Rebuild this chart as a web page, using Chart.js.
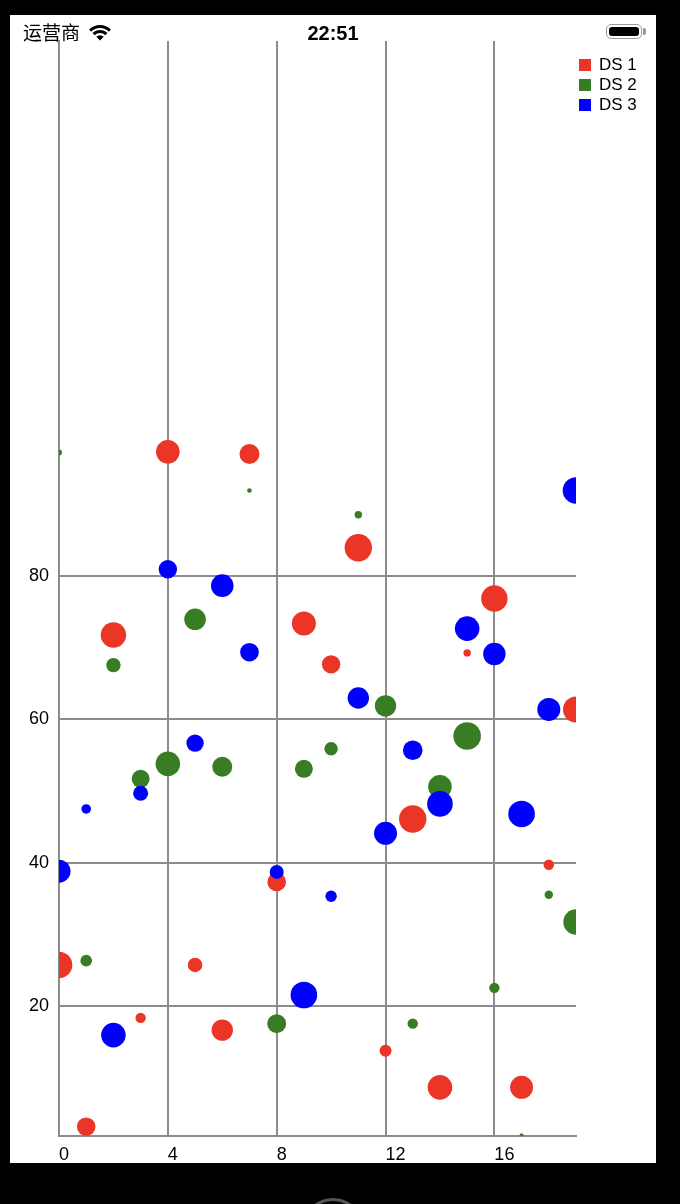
<!DOCTYPE html>
<html>
<head>
<meta charset="utf-8">
<script src="https://cdn.jsdelivr.net/npm/chart.js@4.4.1/dist/chart.umd.min.js"></script>
<style>
  html, body { margin: 0; padding: 0; background: #000; width: 680px; height: 1204px; overflow: hidden; position: relative; }
  #screen { position: absolute; left: 10px; top: 15px; width: 646px; height: 1148px; background: #fff; }
  #chartBox { position: absolute; left: 10px; top: 15px; width: 646px; height: 1148px; }
  .sb { position: absolute; color: #000; }
  #carrier { left: 23px; top: 21px; font: 19px/22px "Noto Sans CJK SC", sans-serif; }
  #clock { left: 283px; width: 100px; text-align: center; top: 21px; font: bold 20px/24px "Liberation Sans", Arial, sans-serif; }
  #wifi { left: 87px; top: 24px; }
  #batt { left: 606px; top: 24px; width: 34px; height: 13px; border: 1.5px solid #9a9a9a; border-radius: 5px; }
  #batt div { position: absolute; left: 2px; top: 2px; right: 2px; bottom: 2px; background: #000; border-radius: 3px; }
  #nub { left: 643px; top: 28px; width: 3px; height: 7px; background: #9a9a9a; border-radius: 0 2px 2px 0; }
  #home { position: absolute; left: 302px; top: 1198px; width: 56px; height: 56px; border: 3px solid #555; border-radius: 50%; }
  #legend { position: absolute; left: 579px; top: 55px; font: 17px/20px "Liberation Sans", Arial, sans-serif; color: #000; }
  .li { display: flex; align-items: center; height: 20px; }
  .sw { width: 12px; height: 12px; margin-right: 8px; }
</style>
</head>
<body>
<div id="screen"></div>
<div id="chartBox"><canvas id="c" width="646" height="1148"></canvas></div>
<div class="sb" id="carrier">运营商</div>
<svg class="sb" id="wifi" width="26" height="18" viewBox="0 0 26 18">
  <path d="M3.1 6.6 A14 14 0 0 1 22.9 6.6" fill="none" stroke="#000" stroke-width="3"/>
  <path d="M6.6 10.1 A9 9 0 0 1 19.4 10.1" fill="none" stroke="#000" stroke-width="3"/>
  <path d="M13 16.5 L9.3 12.8 A5.2 5.2 0 0 1 16.7 12.8 Z" fill="#000"/>
</svg>
<div class="sb" id="clock">22:51</div>
<div class="sb" id="batt"><div></div></div>
<div class="sb" id="nub"></div>
<div id="home"></div>
<div id="legend"></div>
<script>
// ---- data ----
const seriesLabels = ['DS 1', 'DS 2', 'DS 3'];
const seriesColors = ['rgb(234,53,39)', 'rgb(56,125,35)', 'rgb(0,0,255)'];
const xValues = [0, 1, 2, 3, 4, 5, 6, 7, 8, 9, 10, 11, 12, 13, 14, 15, 16, 17, 18, 19];

const ds1Y = [25.7, 3.1, 71.8, 18.3, 97.4, 25.7, 16.6, 97.1, 37.3, 73.4, 67.7, 84.0, 13.7, 46.1, 8.6, 69.3, 76.9, 8.6, 39.7, 61.4];
const ds1R = [13.3, 9.3, 12.7, 5.2, 11.8, 7.3, 10.7, 10, 9.3, 12, 9.2, 13.7, 6, 13.7, 12.3, 3.7, 13.2, 11.5, 5.2, 13];

const ds2Y = [97.3, 26.3, 67.6, 51.7, 53.8, 74.0, 53.4, 92.0, 17.5, 53.1, 55.9, 88.6, 61.9, 17.5, 50.6, 57.7, 22.5, 1.9, 35.5, 31.7];
const ds2R = [3, 5.8, 7.2, 9, 12.3, 10.8, 10, 2.3, 9.5, 9, 6.7, 3.7, 10.7, 5.2, 11.8, 13.8, 5.2, 2, 4.2, 12.7];

const ds3Y = [38.8, 47.5, 15.9, 49.7, 81.0, 56.7, 78.7, 69.4, 38.7, 21.5, 35.3, 63.0, 44.1, 55.7, 48.2, 72.7, 69.15, 46.8, 61.4, 92.0];
const ds3R = [11.5, 4.8, 12.3, 7.5, 9.2, 8.7, 11.3, 9.3, 7, 13.3, 5.7, 10.7, 11.5, 9.8, 12.8, 12.3, 11.2, 13.3, 11.5, 13.3];

const xTicks = [0, 4, 8, 12, 16];
const yTicks = [20, 40, 60, 80];
const xMin = 0, xMax = 19;
const yMin = 1.8, yMax = 154.8;

function pts(ys, rs) { return xValues.map((x, i) => ({ x: x, y: ys[i], r: rs[i] })); }
const allY = [ds1Y, ds2Y, ds3Y];
const allR = [ds1R, ds2R, ds3R];

const datasets = seriesLabels.map((lab, i) => ({
  label: lab,
  data: pts(allY[i], allR[i]),
  backgroundColor: seriesColors[i],
  borderWidth: 0,
  hoverBorderWidth: 0,
  clip: 0,
  order: 3 - i
}));

const gridColor = '#8c8c8c';
const tickFont = { family: '"Liberation Sans", Arial, sans-serif', size: 18 };

const chart = new Chart(document.getElementById('c'), {
  type: 'bubble',
  data: { datasets: datasets },
  options: {
    responsive: false,
    devicePixelRatio: 1,
    animation: false,
    layout: { padding: { top: 26, right: 80, bottom: 0, left: 0 } },
    plugins: { legend: { display: false }, tooltip: { enabled: false }, title: { display: false } },
    scales: {
      x: {
        type: 'linear', min: xMin, max: xMax,
        afterBuildTicks: s => { s.ticks = xTicks.map(v => ({ value: v })); },
        afterFit: s => { s.height = 27; },
        grid: { color: gridColor, lineWidth: 2, drawTicks: false },
        border: { display: true, color: gridColor, width: 2 },
        ticks: { color: '#000', font: tickFont, padding: 8, align: 'start', maxRotation: 0 }
      },
      y: {
        type: 'linear', min: yMin, max: yMax,
        afterBuildTicks: s => { s.ticks = yTicks.map(v => ({ value: v })); },
        afterFit: s => { s.width = 49; },
        grid: { color: gridColor, lineWidth: 2, drawTicks: false },
        border: { display: true, color: gridColor, width: 2 },
        ticks: { color: '#000', font: tickFont, padding: 10 }
      }
    }
  }
});

// HTML legend built from the chart's datasets
const leg = document.getElementById('legend');
chart.data.datasets.forEach(d => {
  const row = document.createElement('div'); row.className = 'li';
  const sw = document.createElement('span'); sw.className = 'sw'; sw.style.background = d.backgroundColor;
  const tx = document.createElement('span'); tx.textContent = d.label;
  row.appendChild(sw); row.appendChild(tx); leg.appendChild(row);
});
</script>
</body>
</html>
